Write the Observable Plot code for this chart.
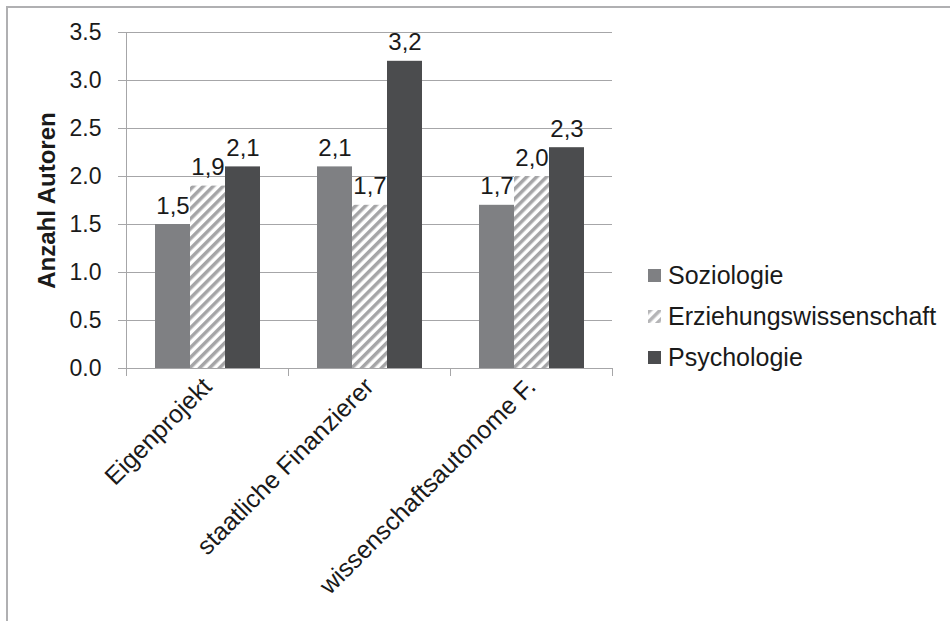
<!DOCTYPE html>
<html>
<head>
<meta charset="utf-8">
<script src="https://cdn.jsdelivr.net/npm/d3@7"></script>
<script src="https://cdn.jsdelivr.net/npm/@observablehq/plot@0.6"></script>
<style>
  html, body { margin: 0; padding: 0; background: #fff; }
  #wrap { position: relative; width: 950px; height: 621px; overflow: hidden; background: #fff;
          font-family: "Liberation Sans", Arial, sans-serif; color: #1a1a1a; }
  #border { position: absolute; left: 6px; top: 6px; width: 1000px; height: 1000px;
            border-left: 2px solid #b0b0b2; border-top: 2px solid #b0b0b2; box-sizing: border-box; }
  #chart { position: absolute; left: 0; top: 0; }
  .leg { position: absolute; left: 648px; height: 30px; display: flex; align-items: center; font-size: 25px; white-space: nowrap; }
  .leg .sw { width: 13px; height: 13px; margin-right: 7px; flex: none; }
</style>
</head>
<body>
<div id="wrap">
  <div id="border"></div>
  <div id="chart"></div>
  <div id="legend"></div>
</div>
<script>
const categories = ["Eigenprojekt", "staatliche Finanzierer", "wissenschaftsautonome F."];
const series = ["Soziologie", "Erziehungswissenschaft", "Psychologie"];
const soziologie = [1.5, 2.1, 1.7];
const erziehungswissenschaft = [1.9, 1.7, 2.0];
const psychologie = [2.1, 3.2, 2.3];
const yTicks = [0, 0.5, 1, 1.5, 2, 2.5, 3, 3.5];
const seriesColors = ["#7f8083", "url(#hatch)", "#4b4c4e"];

const valuesBySeries = [soziologie, erziehungswissenschaft, psychologie];
const rows = categories.flatMap((c, i) => series.map((s, j) => ({cat: c, series: s, value: valuesBySeries[j][i]})));

const W = 620, H = 621, mT = 32, mB = 253, mL = 125, mR = 7.5;
const innerH = H - mT - mB;
const grey = "#a6a6a8";
const fmtComma = d => d.toFixed(1).replace(".", ",");

const chart = Plot.plot({
  width: W, height: H,
  marginTop: mT, marginBottom: mB, marginLeft: mL, marginRight: mR,
  style: {fontFamily: '"Liberation Sans", Arial, sans-serif', color: "#1a1a1a", background: "transparent", overflow: "visible"},
  fx: {domain: categories, padding: 0, label: null},
  x: {domain: series, paddingInner: 0, paddingOuter: 0.757, axis: null},
  y: {domain: [0, 3.5], label: null},
  color: {domain: series, range: seriesColors},
  marks: [
    Plot.gridY(yTicks, {stroke: grey, strokeOpacity: 1}),
    Plot.barY(rows, {fx: "cat", x: "series", y: "value", fill: "series"}),
    Plot.ruleY([0], {stroke: grey}),
    Plot.frame({anchor: "left", facetAnchor: "left", stroke: grey, insetBottom: -7}),
    Plot.frame({anchor: "left", stroke: grey, insetTop: innerH, insetBottom: -7}),
    Plot.frame({anchor: "right", facetAnchor: "right", stroke: grey, insetTop: innerH, insetBottom: -7}),
    Plot.axisY(yTicks, {tickFormat: d3.format(".1f"), tickSize: 8, tickPadding: 17, fontSize: 23, stroke: grey, fill: "#1a1a1a", label: null}),
    Plot.axisFx({anchor: "bottom", tickRotate: -45, tickSize: 0, tickPadding: 14, fontSize: 25, fill: "#1a1a1a", label: null}),
    Plot.text(rows, {fx: "cat", x: "series", y: "value", text: d => fmtComma(d.value), lineAnchor: "bottom", dy: -11, fontSize: 24, fill: "#1a1a1a"}),
    Plot.text(["Anzahl Autoren"], {frameAnchor: "left", textAnchor: "middle", rotate: -90, dx: -79, fontWeight: "bold", fontSize: 24, fill: "#1a1a1a", facetAnchor: "left"})
  ]
});

const ns = "http://www.w3.org/2000/svg";
const defs = document.createElementNS(ns, "defs");
defs.innerHTML = '<pattern id="hatch" patternUnits="userSpaceOnUse" width="7" height="7" patternTransform="rotate(45)"><rect width="7" height="7" fill="#ffffff"/><rect width="3.5" height="7" fill="#a5a5a7"/></pattern>';
chart.insertBefore(defs, chart.firstChild);
document.getElementById("chart").appendChild(chart);

// legend
const legendY = [275, 316, 357];
const legend = document.getElementById("legend");
series.forEach((s, j) => {
  const row = document.createElement("div");
  row.className = "leg";
  row.style.top = (legendY[j] - 15) + "px";
  const sw = document.createElementNS(ns, "svg");
  sw.setAttribute("class", "sw");
  sw.setAttribute("width", 13); sw.setAttribute("height", 13);
  sw.innerHTML = (j === 1
    ? '<defs><pattern id="hatchL" patternUnits="userSpaceOnUse" width="7" height="7" patternTransform="rotate(45)"><rect width="7" height="7" fill="#fff"/><rect width="3.5" height="7" fill="#b5b5b7"/></pattern></defs><rect width="13" height="13" fill="url(#hatchL)"/>'
    : '<rect width="13" height="13" fill="' + seriesColors[j] + '"/>');
  const t = document.createElement("span");
  t.textContent = s;
  row.appendChild(sw); row.appendChild(t);
  legend.appendChild(row);
});
</script>
</body>
</html>
